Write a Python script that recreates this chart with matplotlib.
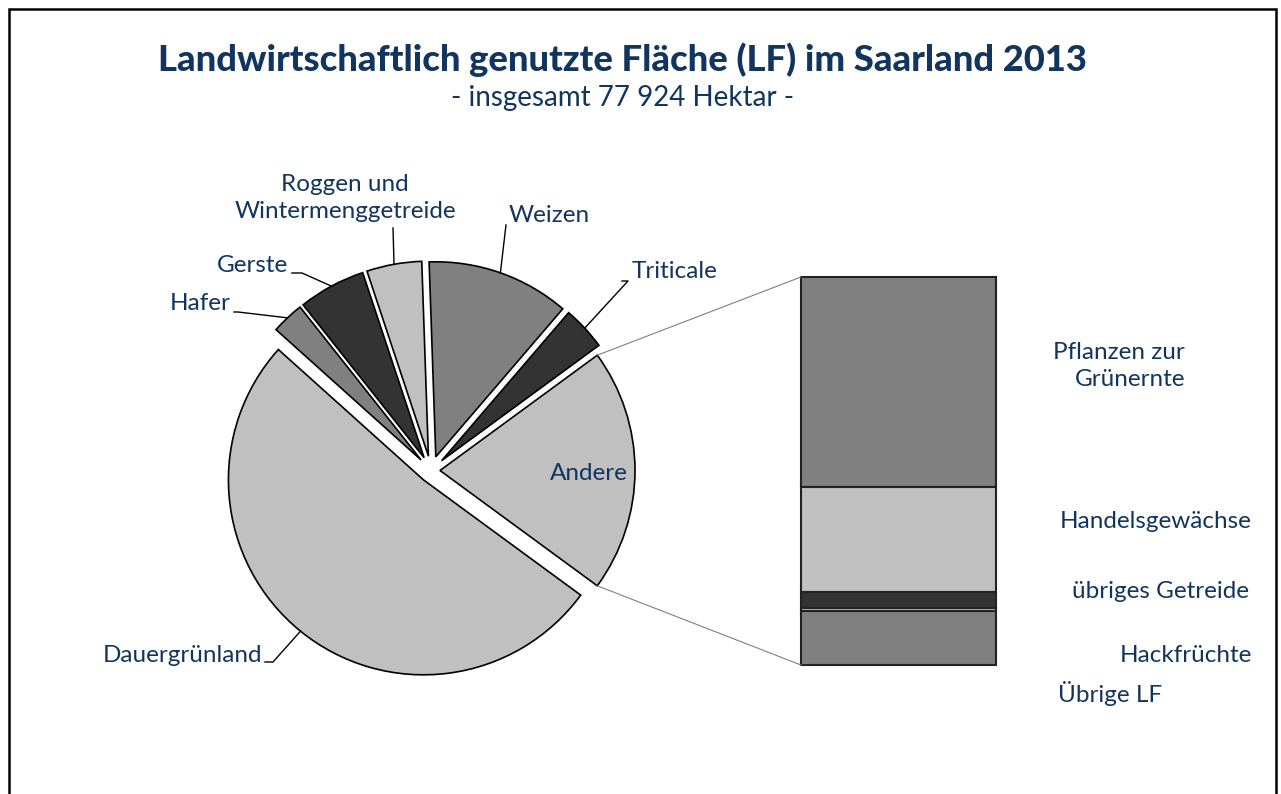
import numpy as np
import matplotlib.pyplot as plt
from matplotlib.patches import Rectangle

# pie data (hectares), drawn counterclockwise from "Andere"
pie_labels = ["Andere", "Triticale", "Weizen", "Roggen und\nWintermenggetreide",
              "Gerste", "Hafer", "Dauergrünland"]
pie_values = [15690, 2840, 9220, 3550, 4330, 2100, 40190]
pie_colors = ["#c0c0c0", "#333333", "#808080", "#c0c0c0", "#333333", "#808080", "#c0c0c0"]
pie_explode = [9, 14.5, 14.5, 14.5, 14.5, 14.5, 12]   # in pixels (pie uses data units)

# breakdown of "Andere" (top to bottom in the bar)
bar_labels = ["Pflanzen zur\nGrünernte", "Handelsgewächse", "übriges Getreide",
              "Hackfrüchte", "Übrige LF"]
bar_values = [8490, 4250, 650, 100, 2200]
bar_colors = ["#808080", "#c0c0c0", "#333333", "#c0c0c0", "#808080"]

navy = "#12355f"
plt.rcParams['font.family'] = ['Lato', 'DejaVu Sans']

fig = plt.figure(figsize=(12.81, 7.94), dpi=100)
ax = fig.add_axes([0, 0, 1, 1])

# frame around the chart
fig.patches.append(Rectangle((9 / 1281, -0.05), 1267 / 1281, (794 - 9) / 794 + 0.05,
                             transform=fig.transFigure, fill=False, ec='black', lw=1.8))

fig.text(623 / 1281, 1 - 60 / 794, "Landwirtschaftlich genutzte Fläche (LF) im Saarland 2013",
         ha='center', va='center', fontsize=26.2, fontweight='black', color=navy)
fig.text(623 / 1281, 1 - 98 / 794, "- insgesamt 77 924 Hektar -",
         ha='center', va='center', fontsize=20, color=navy)

# y axis points down, so go clockwise in data to get counterclockwise on screen;
# "Andere" is centred on the horizontal, as in a bar-of-pie chart
start = 180 * pie_values[0] / sum(pie_values)
wedges, _ = ax.pie(pie_values, colors=pie_colors, explode=pie_explode,
                   startangle=start, counterclock=False, center=(431, 470.5), radius=195,
                   wedgeprops=dict(edgecolor='black', linewidth=1.2), frame=True)
ax.set_xlim(0, 1281)
ax.set_ylim(794, 0)
ax.axis('off')
ax.set_aspect('equal')


def arc_point(w, ang):
    cx, cy = w.center
    return cx + w.r * np.cos(np.radians(ang)), cy + w.r * np.sin(np.radians(ang))


def mid(w):
    return (w.theta1 + w.theta2) / 2


# labels: text anchor, elbow points of the leader line
lab_fmt = {
    "Triticale": dict(xy=(632, 272), ha='left', leader=[(628, 281), (622, 281)]),
    "Weizen": dict(xy=(509, 215), ha='left', leader=[(506, 225)]),
    "Roggen und\nWintermenggetreide": dict(xy=(345, 198), ha='center', leader=[(393, 228)]),
    "Gerste": dict(xy=(288, 266), ha='right', leader=[(302, 273), (292, 273)]),
    "Hafer": dict(xy=(231, 303), ha='right', leader=[(238, 312), (234, 312)]),
    "Dauergrünland": dict(xy=(262, 655), ha='right', leader=[(273, 662), (265, 662)]),
}
fs = 17.5
for w, lab in zip(wedges, pie_labels):
    if lab == "Andere":
        ax.text(589, 473, lab, ha='center', va='center', fontsize=fs, color=navy)
        continue
    f = lab_fmt[lab]
    px, py = arc_point(w, mid(w))
    pts = [(px, py)] + f['leader']
    ax.plot([p[0] for p in pts], [p[1] for p in pts], color='black', lw=1)
    ax.text(f['xy'][0], f['xy'][1], lab, ha=f['ha'], va='center', fontsize=fs,
            color=navy, linespacing=1.35)

# stacked bar for "Andere"
bar_x, bar_w, bar_top, bar_h = 898.5, 195, 277, 388
scale = bar_h / sum(bar_values)
heights = np.array(bar_values) * scale
bottoms = bar_top + np.concatenate([[0], np.cumsum(heights)[:-1]])
ax.bar([bar_x] * len(bar_values), heights, bottom=bottoms, width=bar_w,
       color=bar_colors, edgecolor='#222222', linewidth=1.5)

# connector lines from "Andere" to the bar
andere = wedges[0]
p_top = arc_point(andere, andere.theta1)
p_bot = arc_point(andere, andere.theta2)
ax.plot([p_top[0], bar_x - bar_w / 2], [p_top[1], bar_top], color='#808080', lw=0.8)
ax.plot([p_bot[0], bar_x - bar_w / 2], [p_bot[1], bar_top + bar_h], color='#808080', lw=0.8)

bar_text = [(1185, 366, 'right'), (1252, 522, 'right'), (1249, 591, 'right'),
            (1252, 655, 'right'), (1058, 693, 'left')]
for lab, (tx, ty, ha) in zip(bar_labels, bar_text):
    ax.text(tx, ty, lab, ha=ha, va='center', fontsize=fs, color=navy, linespacing=1.35)

fig.savefig("out.png", dpi=100)
